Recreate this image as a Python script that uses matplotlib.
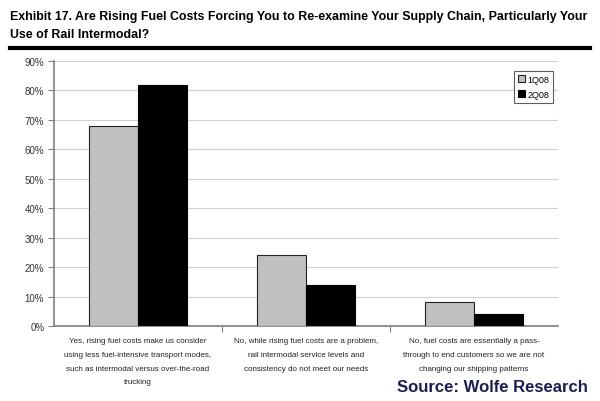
import numpy as np
import matplotlib
matplotlib.use('Agg')
import matplotlib.pyplot as plt
from matplotlib.ticker import FuncFormatter

categories = [
    'Yes, rising fuel costs make us consider\nusing less fuel-intensive transport modes,\nsuch as intermodal versus over-the-road\ntrucking',
    'No, while rising fuel costs are a problem,\nrail intermodal service levels and\nconsistency do not meet our needs',
    'No, fuel costs are essentially a pass-\nthrough to end customers so we are not\nchanging our shipping patterns',
]
q1_08 = [68, 24, 8]
q2_08 = [82, 14, 4]
yticks = list(range(0, 91, 10))

plt.rcParams['font.family'] = ['Liberation Sans', 'DejaVu Sans']

fig = plt.figure(figsize=(6, 4.02), dpi=100)
W, H = 600, 402
ax = fig.add_axes([54 / W, 1 - 327 / H, (558 - 54) / W, (327 - 62) / H])

x = np.arange(len(categories))
bw = 0.29
ax.bar(x - bw / 2, q1_08, bw, color='#c0c0c0', edgecolor='#222222', linewidth=0.8, label='1Q08', zorder=3)
ax.bar(x + bw / 2, q2_08, bw, color='#000000', edgecolor='#000000', linewidth=0.8, label='2Q08', zorder=3)

ax.set_xlim(-0.5, 2.5)
ax.set_ylim(0, 90)
ax.set_yticks(yticks)
ax.yaxis.set_major_formatter(FuncFormatter(lambda v, p: f'{int(v)}%'))
ax.grid(axis='y', color='#d0d0d0', linewidth=0.8, zorder=0)
ax.set_xticks([0.5, 1.5])
ax.set_xticklabels([])
ax.tick_params(axis='x', length=4, color='#808080', direction='out')
ax.tick_params(axis='y', length=4, color='#808080', labelsize=7, colors='#333333', pad=3)
for s in ['top', 'right']:
    ax.spines[s].set_visible(False)
for s in ['left', 'bottom']:
    ax.spines[s].set_color('#808080')
    ax.spines[s].set_linewidth(1.2)

for i, lab in enumerate(categories):
    ax.annotate(lab, xy=(i, 0), xycoords='data', xytext=(0, -8), textcoords='offset points',
                ha='center', va='top', fontsize=5.8, color='#222222', linespacing=2.35)

leg = ax.legend(loc='upper right', bbox_to_anchor=(553 / W, 1 - 72 / H), bbox_transform=fig.transFigure,
                fontsize=6.5, frameon=True, fancybox=False, edgecolor='#333333', handlelength=0.8,
                handleheight=0.8, handletextpad=0.3, borderpad=0.4, labelspacing=0.7, borderaxespad=0)
leg.get_frame().set_linewidth(0.8)

fig.text(10 / W, 1 - 26 / H, 'Exhibit 17. Are Rising Fuel Costs Forcing You to Re-examine Your Supply Chain, Particularly Your\nUse of Rail Intermodal?',
         ha='left', va='center', fontsize=8.9, fontweight='bold', linespacing=1.6)
fig.add_artist(plt.Line2D([10 / W, 590 / W], [1 - 49 / H, 1 - 49 / H], color='black', linewidth=3))
fig.text(588 / W, 1 - 388 / H, 'Source: Wolfe Research', ha='right', va='center', fontsize=12,
         fontweight='bold', color='#1c1c5a')

fig.savefig('out.png', dpi=100)
